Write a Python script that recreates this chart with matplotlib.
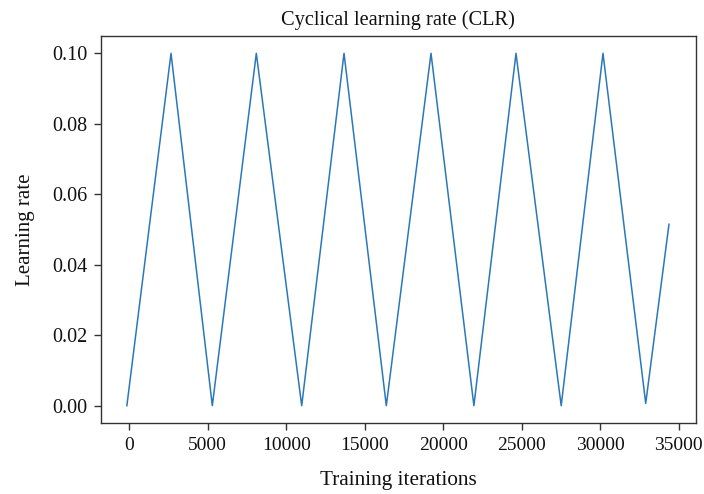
import matplotlib
matplotlib.use("Agg")
import matplotlib.pyplot as plt

# readings: turning points of the triangular schedule
iterations = [-150, 2662, 5293, 8096, 10987, 13682, 16376, 19223,
              21955, 24637, 27516, 30178, 32899, 34382]
learning_rate = [0.0, 0.10, 0.0, 0.10, 0.0, 0.10, 0.0, 0.10,
                 0.0, 0.10, 0.0, 0.10, 0.00066, 0.0515]

x_ticks = [0, 5000, 10000, 15000, 20000, 25000, 30000, 35000]
y_ticks = [0.00, 0.02, 0.04, 0.06, 0.08, 0.10]

plt.rcParams['font.family'] = ['Liberation Serif', 'DejaVu Serif']

fig = plt.figure(figsize=(7.04, 4.94), dpi=100)
ax = fig.add_axes([0.1435, 0.1431, 0.8447, 0.7846])

ax.plot(iterations, learning_rate, color='#2a78b8', linewidth=1.1)

ax.set_xlim(-1796, 36083)
ax.set_ylim(-0.005, 0.105)
ax.set_xticks(x_ticks)
ax.set_xticklabels([str(t) for t in x_ticks])
ax.set_yticks(y_ticks)
ax.set_yticklabels(["%.2f" % t for t in y_ticks])

ax.tick_params(axis='both', labelsize=14.5, length=4.8, width=1.0,
               color='#333333', labelcolor='#111111', pad=5)
ax.tick_params(axis='x', labelsize=14)
for sp in ax.spines.values():
    sp.set_color('#333333')
    sp.set_linewidth(1.0)

ax.set_title("Cyclical learning rate (CLR)", fontsize=14.7, pad=8, color='#111111')
ax.set_xlabel("Training iterations", fontsize=15.3, labelpad=12, color='#111111')
ax.set_ylabel("Learning rate", fontsize=15, labelpad=12, color='#111111')

fig.savefig("out.png", dpi=100)
